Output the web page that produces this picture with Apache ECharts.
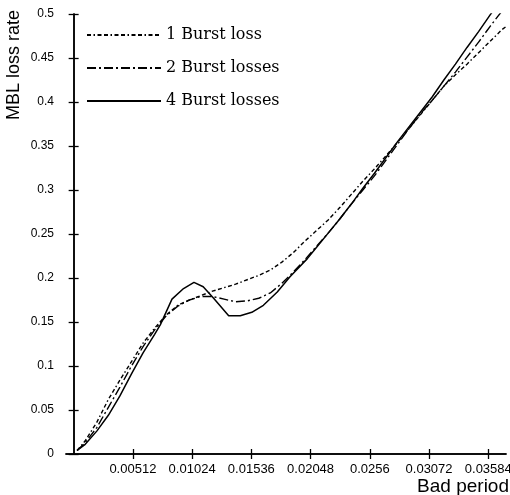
<!DOCTYPE html>
<html>
<head>
<meta charset="utf-8">
<script src="https://cdn.jsdelivr.net/npm/echarts@6/dist/echarts.min.js"></script>
<style>
html,body{margin:0;padding:0;background:#fff;}
#chart{width:510px;height:495px;}
</style>
</head>
<body>
<div id="chart"></div>
<script>
// ---- data ----
const xTicks = [0.00512, 0.01024, 0.01536, 0.02048, 0.0256, 0.03072, 0.03584];
const xTickLabels = ['0.00512', '0.01024', '0.01536', '0.02048', '0.0256', '0.03072', '0.03584'];
const seriesNames = ['1 Burst loss', '2 Burst losses', '4 Burst losses'];

const burst1X = [0.0003, 0.001, 0.002, 0.003, 0.004, 0.005, 0.006, 0.007, 0.008, 0.009, 0.010, 0.011, 0.012, 0.013, 0.014, 0.015, 0.016, 0.017, 0.018, 0.019, 0.020, 0.021, 0.022, 0.023, 0.024, 0.025, 0.026, 0.027, 0.028, 0.029, 0.030, 0.031, 0.032, 0.033, 0.034, 0.035, 0.036, 0.037, 0.0374];
const burst1Y = [0.004, 0.015, 0.036, 0.062, 0.084, 0.105, 0.126, 0.143, 0.158, 0.169, 0.175, 0.180, 0.185, 0.189, 0.193, 0.198, 0.203, 0.209, 0.218, 0.229, 0.242, 0.254, 0.266, 0.280, 0.295, 0.310, 0.324, 0.339, 0.354, 0.370, 0.386, 0.402, 0.418, 0.431, 0.443, 0.456, 0.469, 0.482, 0.486];

const burst2X = [0.0003, 0.001, 0.002, 0.003, 0.004, 0.005, 0.006, 0.007, 0.008, 0.009, 0.010, 0.011, 0.012, 0.013, 0.014, 0.015, 0.016, 0.017, 0.018, 0.019, 0.020, 0.021, 0.022, 0.023, 0.024, 0.025, 0.026, 0.027, 0.028, 0.029, 0.030, 0.031, 0.032, 0.033, 0.034, 0.035, 0.036, 0.037];
const burst2Y = [0.004, 0.013, 0.030, 0.053, 0.076, 0.100, 0.122, 0.141, 0.157, 0.168, 0.175, 0.179, 0.179, 0.176, 0.173, 0.174, 0.177, 0.183, 0.194, 0.207, 0.221, 0.236, 0.251, 0.267, 0.284, 0.300, 0.316, 0.334, 0.352, 0.370, 0.387, 0.402, 0.418, 0.434, 0.451, 0.468, 0.486, 0.503];

const burst4X = [0.0003, 0.001, 0.002, 0.003, 0.004, 0.005, 0.006, 0.007, 0.0075, 0.0085, 0.0095, 0.0104, 0.0112, 0.0121, 0.0134, 0.0144, 0.0154, 0.0164, 0.0176, 0.0187, 0.0202, 0.021, 0.022, 0.023, 0.024, 0.025, 0.026, 0.027, 0.028, 0.029, 0.030, 0.031, 0.032, 0.033, 0.034, 0.035, 0.036, 0.0365];
const burst4Y = [0.004, 0.011, 0.026, 0.044, 0.066, 0.091, 0.115, 0.136, 0.147, 0.176, 0.188, 0.195, 0.190, 0.177, 0.157, 0.157, 0.161, 0.169, 0.184, 0.2015, 0.222, 0.235, 0.251, 0.267, 0.284, 0.302, 0.319, 0.337, 0.355, 0.372, 0.389, 0.406, 0.425, 0.443, 0.462, 0.480, 0.499, 0.508];

// ---- chart ----
const zip = (xs, ys) => xs.map((x, i) => [x, ys[i]]);
const chart = echarts.init(document.getElementById('chart'), null, {renderer: 'canvas'});
const sans = 'Liberation Sans, Arial, sans-serif';
const xMin = -0.00066, xMax = 0.03737;

function xLabel(v) {
  let best = 0;
  for (let i = 1; i < xTicks.length; i++) if (Math.abs(xTicks[i] - v) < Math.abs(xTicks[best] - v)) best = i;
  return xTickLabels[best];
}

const axisLine = {show: true, lineStyle: {color: '#000', width: 1.5}};
const tick = {show: true, inside: true, length: 5, lineStyle: {color: '#000', width: 1.3}};

const option = {
  backgroundColor: '#fff',
  animation: false,
  grid: {left: 66, right: 4, top: 14, bottom: 41, containLabel: false, outerBoundsMode: 'none'},
  legend: {
    orient: 'vertical', left: 86, top: 27, padding: 0,
    itemWidth: 74, itemHeight: 20, itemGap: 17,
    data: seriesNames,
    itemStyle: {opacity: 0},
    textStyle: {fontFamily: 'DejaVu Serif', fontSize: 16, color: '#000'}
  },
  xAxis: [{
    type: 'value', min: xMin, max: xMax, position: 'bottom',
    axisLine: axisLine,
    axisTick: Object.assign({}, tick, {customValues: xTicks}),
    axisLabel: {customValues: xTicks, formatter: xLabel, fontFamily: sans, fontSize: 13, color: '#000', margin: 9},
    splitLine: {show: false}
  }, {
    type: 'value', min: xMin, max: xMax, position: 'top',
    axisLine: axisLine,
    axisTick: Object.assign({}, tick, {customValues: xTicks}),
    axisLabel: {show: false},
    splitLine: {show: false}
  }],
  yAxis: [{
    type: 'value', min: 0, max: 0.5, interval: 0.05, position: 'left',
    axisLine: axisLine,
    axisTick: tick,
    axisLabel: {formatter: v => String(+v.toFixed(2)), fontFamily: sans, fontSize: 12, color: '#000', margin: 12},
    splitLine: {show: false}
  }, {
    type: 'value', min: 0, max: 0.5, interval: 0.05, position: 'right',
    axisLine: axisLine,
    axisTick: tick,
    axisLabel: {show: false},
    splitLine: {show: false}
  }],
  graphic: [
    {type: 'text', x: 14, y: 65, rotation: Math.PI / 2,
     style: {text: 'MBL loss rate', font: '18px Liberation Sans', fill: '#000', align: 'center', verticalAlign: 'middle'}},
    {type: 'text', x: 509, y: 487,
     style: {text: 'Bad period', font: '19px Liberation Sans', fill: '#000', align: 'right', verticalAlign: 'middle'}}
  ],
  series: [
    {name: seriesNames[0], type: 'line', data: zip(burst1X, burst1Y), symbol: 'none', smooth: false,
     lineStyle: {color: '#000', width: 1.4, type: [4, 2.5, 1.5, 2.5, 4, 2.5]}, itemStyle: {color: '#000'}},
    {name: seriesNames[1], type: 'line', data: zip(burst2X, burst2Y), symbol: 'none', smooth: false,
     lineStyle: {color: '#000', width: 1.4, type: [9, 3, 2, 3]}, itemStyle: {color: '#000'}},
    {name: seriesNames[2], type: 'line', data: zip(burst4X, burst4Y), symbol: 'none', smooth: false,
     lineStyle: {color: '#000', width: 1.5, type: 'solid'}, itemStyle: {color: '#000'}}
  ]
};
chart.setOption(option);
</script>
</body>
</html>
